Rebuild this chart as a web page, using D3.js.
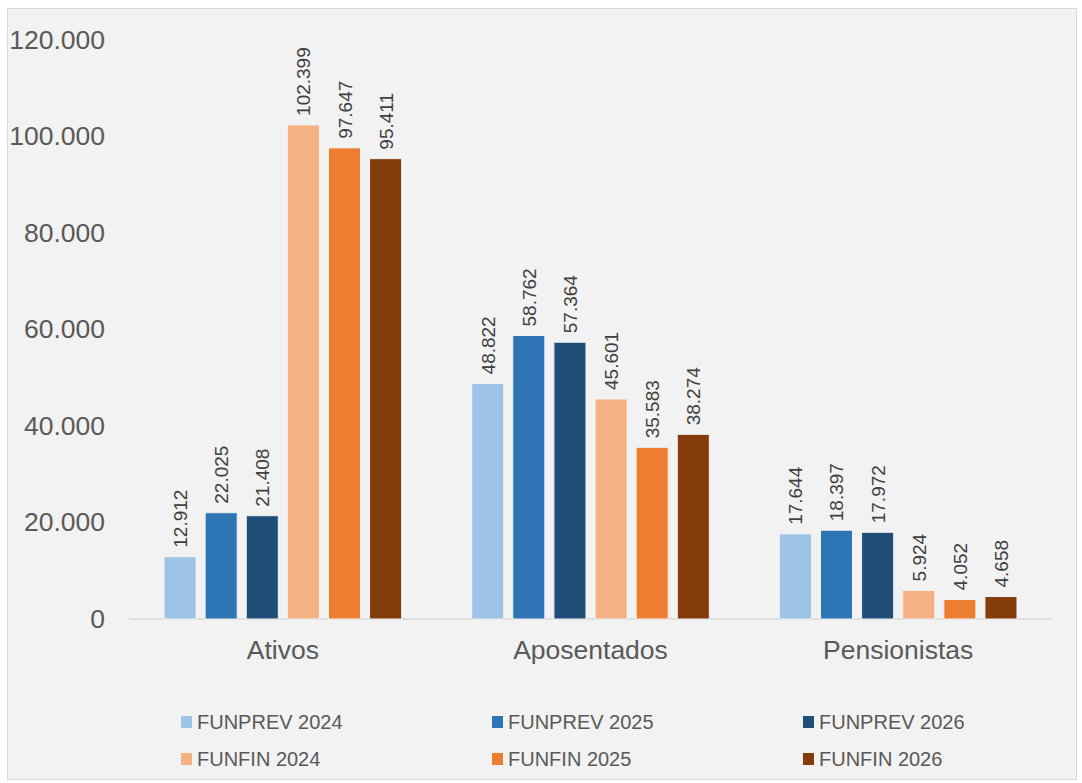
<!DOCTYPE html>
<html>
<head>
<meta charset="utf-8">
<script src="https://cdn.jsdelivr.net/npm/d3@7"></script>
<style>
  body { margin: 0; background: #fff; font-family: "Liberation Sans", Arial, sans-serif; }
</style>
</head>
<body>
<div id="chart-area"></div>
<script>
// Data
var categories = ["Ativos", "Aposentados", "Pensionistas"];
var seriesNames = ["FUNPREV 2024", "FUNPREV 2025", "FUNPREV 2026", "FUNFIN 2024", "FUNFIN 2025", "FUNFIN 2026"];
var seriesColors = ["#9DC3E6", "#2E75B6", "#1F4E79", "#F4B183", "#ED7D31", "#843C0C"];
var funprev2024 = [12912, 48822, 17644];
var funprev2025 = [22025, 58762, 18397];
var funprev2026 = [21408, 57364, 17972];
var funfin2024 = [102399, 45601, 5924];
var funfin2025 = [97647, 35583, 4052];
var funfin2026 = [95411, 38274, 4658];
var yTicks = [0, 20000, 40000, 60000, 80000, 100000, 120000];

var seriesValues = [funprev2024, funprev2025, funprev2026, funfin2024, funfin2025, funfin2026];

var W = 1082, H = 783;
var margin = { left: 129, right: 30, top: 40, bottom: 164 };
var width = W - margin.left - margin.right;
var height = H - margin.top - margin.bottom;

// pt-BR thousands separator
var fmt = function (v) { return d3.format(",")(v).replace(/,/g, "."); };

var svg = d3.select("#chart-area")
  .append("svg")
    .attr("width", W)
    .attr("height", H);

// panel background
svg.append("rect")
  .attr("x", 7.5).attr("y", 8.5)
  .attr("width", 1069).attr("height", 771)
  .attr("fill", "#f2f2f2")
  .attr("stroke", "#d9d9d9");

var g = svg.append("g")
  .attr("transform", "translate(" + margin.left + ", " + margin.top + ")");

var x0 = d3.scaleBand()
  .domain(categories)
  .range([0, width]);

var x1 = d3.scaleBand()
  .domain(seriesNames)
  .range([35, x0.bandwidth() - 35])
  .paddingInner(0.22);

var y = d3.scaleLinear()
  .domain([0, 120000])
  .range([height, 0]);

// Y axis labels
var yAxis = g.append("g")
  .call(d3.axisLeft(y).tickValues(yTicks).tickFormat(fmt).tickSize(0).tickPadding(24));
yAxis.select(".domain").remove();
yAxis.selectAll("text")
  .attr("font-family", "Liberation Sans, Arial, sans-serif")
  .attr("font-size", "26.5px")
  .attr("fill", "#595959");

// baseline
g.append("line")
  .attr("x1", 0).attr("x2", width)
  .attr("y1", y(0)).attr("y2", y(0))
  .attr("stroke", "#d9d9d9")
  .attr("stroke-width", 1.5);

// X axis labels
var xAxis = g.append("g")
  .attr("transform", "translate(0, " + height + ")")
  .call(d3.axisBottom(x0).tickSize(0).tickPadding(21));
xAxis.select(".domain").remove();
xAxis.selectAll("text")
  .attr("font-family", "Liberation Sans, Arial, sans-serif")
  .attr("font-size", "26.5px")
  .attr("fill", "#595959");

// bars
var rows = [];
categories.forEach(function (c, i) {
  seriesNames.forEach(function (s, j) {
    rows.push({ cat: c, series: s, color: seriesColors[j], value: seriesValues[j][i] });
  });
});

var groups = g.selectAll(".bar")
  .data(rows)
  .enter()
  .append("g")
    .attr("class", "bar")
    .attr("transform", function (d) { return "translate(" + (x0(d.cat) + x1(d.series)) + ",0)"; });

groups.append("rect")
  .attr("x", 0)
  .attr("width", x1.bandwidth())
  .attr("y", function (d) { return y(d.value); })
  .attr("height", function (d) { return height - y(d.value); })
  .attr("fill", function (d) { return d.color; })
  .attr("stroke", "#f2f2f2")
  .attr("stroke-width", 1);

groups.append("text")
  .attr("transform", function (d) {
    return "translate(" + (x1.bandwidth() / 2 + 7) + "," + (y(d.value) - 9) + ") rotate(-90)";
  })
  .attr("text-anchor", "start")
  .attr("font-family", "Liberation Sans, Arial, sans-serif")
  .attr("font-size", "19px")
  .attr("fill", "#404040")
  .text(function (d) { return fmt(d.value); });

// Legend
var legend = svg.append("g");
var legendItems = legend.selectAll(".leg")
  .data(seriesNames)
  .enter()
  .append("g")
    .attr("class", "leg")
    .attr("transform", function (d, i) {
      return "translate(" + (181 + (i % 3) * 311) + "," + (716 + Math.floor(i / 3) * 37) + ")";
    });

legendItems.append("rect")
  .attr("width", 11).attr("height", 12)
  .attr("fill", function (d, i) { return seriesColors[i]; });

legendItems.append("text")
  .attr("x", 16)
  .attr("y", 13)
  .attr("font-family", "Liberation Sans, Arial, sans-serif")
  .attr("font-size", "20px")
  .attr("fill", "#595959")
  .text(function (d) { return d; });
</script>
</body>
</html>
